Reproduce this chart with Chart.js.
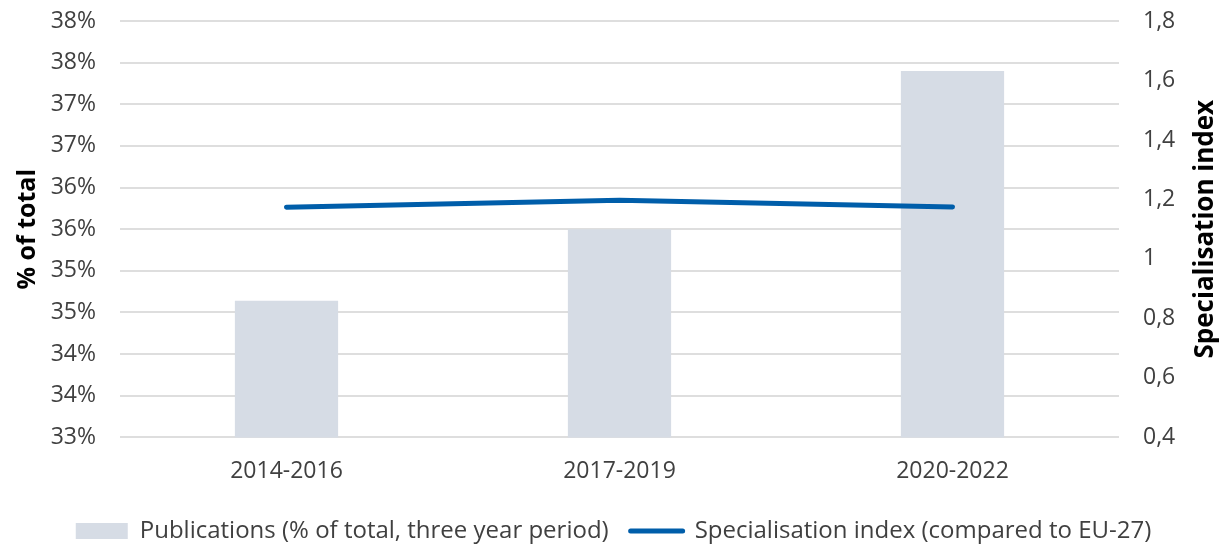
<!DOCTYPE html>
<html>
<head>
<meta charset="utf-8">
<script src="https://cdn.jsdelivr.net/npm/chart.js@4"></script>
<style>
  html, body { margin: 0; padding: 0; background: #fff; }
  #wrap { width: 1227px; height: 545px; }
</style>
</head>
<body>
<div id="wrap"><canvas id="chart" width="1227" height="545"></canvas></div>
<script>
// periods and values
const periods = ["2014-2016", "2017-2019", "2020-2022"];
const publicationsPct = [34.64, 35.5, 37.4];
const specialisationIndex = [1.174, 1.197, 1.175];

const leftTitle = "% of total";
const rightTitle = "Specialisation index";
const barLabel = "Publications (% of total, three year period)";
const lineLabel = "Specialisation index (compared to EU-27)";

const textColor = "#404040";
const barColor = "#d6dce5";
const lineColor = "#005eaa";
const gridColor = "#dedede";
const fontFamily = "'Open Sans', sans-serif";

// right axis title reads bottom-to-top, so draw it ourselves
const rightTitlePlugin = {
  id: "rightTitle",
  afterDraw(chart) {
    const { ctx, chartArea } = chart;
    ctx.save();
    ctx.translate(1206, (chartArea.top + chartArea.bottom) / 2);
    ctx.rotate(-Math.PI / 2);
    ctx.font = "bold 26px " + fontFamily;
    ctx.fillStyle = "#000";
    ctx.textAlign = "center";
    ctx.textBaseline = "middle";
    ctx.fillText(rightTitle, 0, 0);
    ctx.restore();
  }
};

// fixed axis widths, no extra label overflow above/below the plot
const fixAxis = w => scale => {
  scale.width = w;
  scale.paddingTop = 0;
  scale.paddingBottom = 0;
};

new Chart(document.getElementById("chart"), {
  type: "bar",
  data: {
    labels: periods,
    datasets: [
      {
        type: "line",
        label: lineLabel,
        data: specialisationIndex,
        yAxisID: "y1",
        borderColor: lineColor,
        backgroundColor: lineColor,
        borderWidth: 5,
        borderCapStyle: "round",
        pointRadius: 0,
        tension: 0,
        order: 0
      },
      {
        type: "bar",
        label: barLabel,
        data: publicationsPct,
        yAxisID: "y",
        backgroundColor: barColor,
        barPercentage: 0.31,
        categoryPercentage: 1,
        order: 1
      }
    ]
  },
  options: {
    responsive: false,
    animation: false,
    layout: { padding: { top: 21, left: 0, right: 0, bottom: -8 } },
    scales: {
      x: {
        grid: { display: false },
        border: { display: false },
        ticks: { color: textColor, font: { family: fontFamily, size: 23 }, padding: 12 }
      },
      y: {
        position: "left",
        min: 33,
        max: 38,
        afterFit: fixAxis(120),
        grid: { color: gridColor, lineWidth: 2, drawTicks: false },
        border: { display: false },
        ticks: {
          stepSize: 0.5,
          color: textColor,
          padding: 24,
          font: { family: fontFamily, size: 23 },
          callback: v => Math.round(v) + "%"
        },
        title: {
          display: true,
          text: leftTitle,
          color: "#000",
          font: { family: fontFamily, size: 25, weight: "bold" },
          padding: { top: 13, bottom: 0 }
        }
      },
      y1: {
        position: "right",
        min: 0.4,
        max: 1.8,
        afterFit: fixAxis(108),
        grid: { drawOnChartArea: false, drawTicks: false },
        border: { display: false },
        ticks: {
          stepSize: 0.2,
          color: textColor,
          padding: 24,
          font: { family: fontFamily, size: 23 },
          callback: v => String(Math.round(v * 10) / 10).replace(".", ",")
        }
      }
    },
    plugins: {
      tooltip: { enabled: false },
      legend: {
        position: "bottom",
        reverse: true,
        labels: {
          color: textColor,
          font: { family: fontFamily, size: 24 },
          usePointStyle: true,
          pointStyleWidth: 52,
          boxHeight: 16,
          padding: 22,
          generateLabels: chart => chart.data.datasets.map((ds, i) => ({
            text: ds.label,
            datasetIndex: i,
            fillStyle: ds.backgroundColor,
            strokeStyle: ds.type === "line" ? ds.borderColor : ds.backgroundColor,
            lineWidth: ds.type === "line" ? 5 : 0,
            lineCap: "round",
            pointStyle: ds.type === "line" ? "line" : "rect",
            fontColor: textColor,
            hidden: false
          }))
        }
      }
    }
  },
  plugins: [rightTitlePlugin]
});
</script>
</body>
</html>
